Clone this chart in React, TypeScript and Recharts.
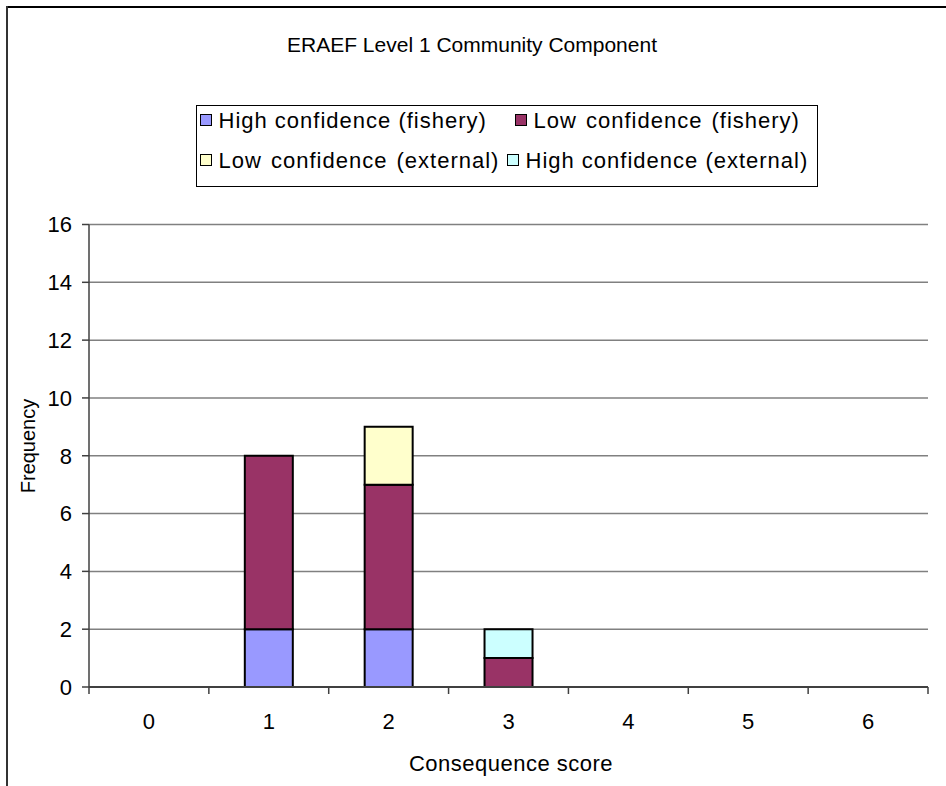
import React from 'react';
import { BarChart, Bar, XAxis, YAxis, CartesianGrid } from 'recharts';

const categories = ['0', '1', '2', '3', '4', '5', '6'];
const highFishery = [0, 2, 2, 0, 0, 0, 0];
const lowFishery = [0, 6, 5, 1, 0, 0, 0];
const lowExternal = [0, 0, 2, 0, 0, 0, 0];
const highExternal = [0, 0, 0, 1, 0, 0, 0];
const yTicks = [0, 2, 4, 6, 8, 10, 12, 14, 16];

const seriesNames = [
  'High confidence (fishery)',
  'Low confidence (fishery)',
  'Low confidence (external)',
  'High confidence (external)',
];
const seriesColors = ['#9999FF', '#993366', '#FFFFCC', '#CCFFFF'];

const data = categories.map((c, i) => ({
  cat: c,
  hf: highFishery[i],
  lf: lowFishery[i],
  le: lowExternal[i],
  he: highExternal[i],
}));

const FONT = '"Liberation Sans", Arial, sans-serif';
const FS = 22;
const W = 938;
const H = 770;
const MARGIN = { top: 216.5, right: 18, bottom: 61, left: 21 };
const YAXIS_W = 60;
const PLOT_W = W - MARGIN.left - MARGIN.right - YAXIS_W;
const BAND = PLOT_W / categories.length;
const AXIS_COLOR = '#404040';

const XTick = (props: any) => {
  const { x, y, payload, index } = props;
  const half = BAND / 2;
  return (
    <g>
      <line x1={x - half} x2={x - half} y1={y} y2={y + 7} stroke={AXIS_COLOR} strokeWidth={1.5} />
      {index === categories.length - 1 && (
        <line x1={x + half} x2={x + half} y1={y} y2={y + 7} stroke={AXIS_COLOR} strokeWidth={1.5} />
      )}
      <text x={x} y={y + 42} textAnchor="middle" fontSize={FS} fontFamily={FONT} fill="#000">
        {payload.value}
      </text>
    </g>
  );
};

const Swatch = ({ color }: { color: string }) => (
  <span
    style={{
      display: 'inline-block',
      width: 10,
      height: 10,
      background: color,
      border: '1.5px solid #000',
      marginRight: 7,
      verticalAlign: 'middle',
      position: 'relative',
      top: -2,
    }}
  />
);

const LegendEntry = ({ i, left, top, wordSpacing = 0 }: { i: number; left: number; top: number; wordSpacing?: number }) => (
  <div style={{ position: 'absolute', left, top, whiteSpace: 'nowrap', lineHeight: '26px' }}>
    <Swatch color={seriesColors[i]} />
    <span style={{ letterSpacing: 1, wordSpacing }}>{seriesNames[i]}</span>
  </div>
);

export default function App() {
  return (
    <div style={{ position: 'relative', width: W, height: H, fontFamily: FONT, fontSize: FS, color: '#000' }}>
      <div style={{ position: 'fixed', left: 6, top: 6, width: 940, height: 2, background: '#000', zIndex: 5 }} />
      <div style={{ position: 'fixed', left: 6, top: 6, width: 2, height: 780, background: '#333', zIndex: 5 }} />

      <div style={{ position: 'absolute', left: 164, width: 600, top: 24, textAlign: 'center', lineHeight: '26px', fontSize: 21 }}>
        ERAEF Level 1 Community Component
      </div>

      <div
        style={{
          position: 'absolute',
          left: 188,
          top: 97,
          width: 620,
          height: 80,
          border: '1.5px solid #000',
          background: '#fff',
        }}
      >
        <LegendEntry i={0} left={2.5} top={2} />
        <LegendEntry i={1} left={317.5} top={2} wordSpacing={2} />
        <LegendEntry i={2} left={2.5} top={42} wordSpacing={2} />
        <LegendEntry i={3} left={309.5} top={42} />
      </div>

      <div
        style={{
          position: 'absolute',
          left: 20 - 60,
          top: 438 - 13,
          width: 120,
          textAlign: 'center',
          lineHeight: '26px',
          fontSize: 20,
          transform: 'rotate(-90deg)',
        }}
      >
        Frequency
      </div>

      <div
        style={{
          position: 'absolute',
          left: 503 - 150,
          width: 300,
          top: 743,
          textAlign: 'center',
          lineHeight: '26px',
          letterSpacing: 0.5,
        }}
      >
        Consequence score
      </div>

      <div style={{ position: 'absolute', left: 0, top: 0 }}>
        <BarChart width={W} height={H} data={data} margin={MARGIN} barCategoryGap="30%">
          <CartesianGrid horizontal={true} vertical={false} stroke="#808080" strokeWidth={1.5} yAxisId="left" />
          <XAxis
            dataKey="cat"
            tickLine={false}
            tickSize={0}
            tickMargin={0}
            tick={<XTick />}
            axisLine={{ stroke: AXIS_COLOR, strokeWidth: 2 }}
            height={30}
            interval={0}
          />
          <YAxis
            yAxisId="left"
            width={YAXIS_W}
            domain={[0, 16]}
            ticks={yTicks}
            interval={0}
            tickSize={7}
            tickMargin={10}
            tickLine={{ stroke: AXIS_COLOR, strokeWidth: 1.5 }}
            axisLine={{ stroke: AXIS_COLOR, strokeWidth: 1.5 }}
            tick={{ fontSize: FS, fontFamily: FONT, fill: '#000' }}
          />
          <YAxis
            yAxisId="right"
            orientation="right"
            width={0}
            domain={[0, 16]}
            tick={false}
            tickLine={false}
            axisLine={{ stroke: '#808080', strokeWidth: 2 }}
          />
          <Bar yAxisId="left" dataKey="hf" stackId="s" fill={seriesColors[0]} stroke="#000" strokeWidth={2} isAnimationActive={false} />
          <Bar yAxisId="left" dataKey="lf" stackId="s" fill={seriesColors[1]} stroke="#000" strokeWidth={2} isAnimationActive={false} />
          <Bar yAxisId="left" dataKey="le" stackId="s" fill={seriesColors[2]} stroke="#000" strokeWidth={2} isAnimationActive={false} />
          <Bar yAxisId="left" dataKey="he" stackId="s" fill={seriesColors[3]} stroke="#000" strokeWidth={2} isAnimationActive={false} />
        </BarChart>
      </div>
    </div>
  );
}
